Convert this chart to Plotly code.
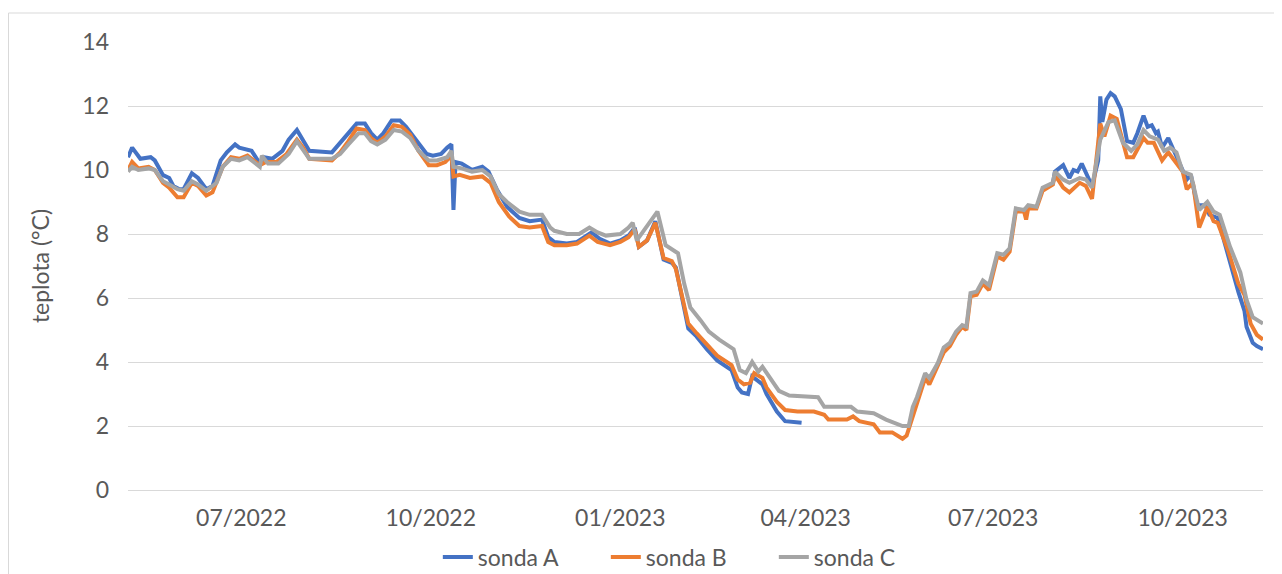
import pandas as pd
import plotly.graph_objects as go

# day offsets from 2022-07-01 and temperatures (°C)
start_date = "2022-07-01"

sondaA_days_1 = [-55, -53, -49, -44, -42, -38, -35, -33, -30, -28,
                 -24, -21, -17, -14, -10, -7, -3, -1, 5, 9,
                 11, 15, 20, 23, 27, 30, 33, 44, 48, 52,
                 56, 60, 63, 66, 69, 73, 77, 80, 85, 90,
                 93, 97, 100, 102, 103, 104, 107, 112, 117, 120,
                 124, 129, 135, 140, 146, 149, 152, 158, 163, 170,
                 174, 179, 184, 188, 191, 193, 197, 201, 205, 209,
                 211, 214, 217, 221, 226, 231, 238, 241, 243, 246,
                 248, 253, 255, 260, 264, 272]
sondaA_vals_1 = [10.4, 10.7, 10.35, 10.4, 10.3, 9.84, 9.75, 9.5, 9.4, 9.4,
                 9.9, 9.75, 9.4, 9.5, 10.3, 10.55, 10.8, 10.7, 10.6, 10.2,
                 10.4, 10.35, 10.6, 10.95, 11.25, 10.95, 10.6, 10.55, 10.85, 11.15,
                 11.45, 11.45, 11.15, 10.95, 11.15, 11.55, 11.55, 11.35, 10.95, 10.5,
                 10.45, 10.5, 10.7, 10.8, 8.75, 10.25, 10.2, 10.0, 10.1, 9.95,
                 9.4, 8.85, 8.5, 8.4, 8.45, 7.9, 7.75, 7.7, 7.75, 8.05,
                 7.85, 7.7, 7.8, 7.95, 8.2, 7.6, 7.8, 8.4, 7.2, 7.1,
                 6.95, 5.95, 5.05, 4.8, 4.4, 4.05, 3.75, 3.2, 3.05, 3.0,
                 3.55, 3.3, 3.0, 2.45, 2.15, 2.1]

sondaA_days_2 = [394, 395, 399, 401, 402, 404, 406, 408, 412, 413,
                 416, 417, 418, 420, 422, 424, 427, 430, 433, 435,
                 438, 440, 442, 444, 445, 447, 450, 453, 457, 459,
                 461, 464, 468, 470, 474, 479, 484, 487, 488, 491,
                 493, 496]
sondaA_vals_2 = [9.6, 9.95, 10.15, 9.9, 9.75, 10.0, 9.95, 10.2, 9.6, 9.5,
                 10.3, 12.3, 11.5, 12.2, 12.4, 12.3, 11.9, 10.9, 10.85, 11.15,
                 11.7, 11.35, 11.4, 11.15, 11.2, 10.7, 11.0, 10.55, 10.0, 9.7,
                 9.85, 8.9, 8.9, 8.6, 8.5, 7.3, 6.2, 5.6, 5.1, 4.6,
                 4.5, 4.4]

sondaB_days = [-55, -53, -50, -45, -42, -38, -35, -31, -28, -24,
               -21, -17, -14, -9, -5, -1, 3, 9, 12, 17,
               22, 27, 30, 33, 44, 48, 52, 56, 60, 63,
               66, 70, 74, 78, 82, 86, 91, 95, 99, 102,
               103, 106, 111, 117, 121, 125, 130, 135, 140, 146,
               149, 152, 158, 163, 169, 173, 179, 184, 188, 191,
               193, 197, 201, 205, 209, 211, 214, 217, 221, 226,
               231, 238, 241, 244, 247, 249, 253, 255, 260, 264,
               270, 278, 283, 285, 294, 297, 300, 307, 310, 316,
               321, 323, 328, 332, 334, 338, 341, 344, 347, 350,
               352, 354, 357, 360, 363, 367, 370, 373, 376, 380,
               381, 382, 386, 389, 394, 395, 399, 402, 407, 410,
               413, 417, 419, 422, 425, 430, 433, 438, 440, 443,
               447, 450, 453, 457, 459, 462, 465, 469, 472, 474,
               479, 484, 487, 490, 493, 496]
sondaB_vals = [10.0, 10.25, 10.05, 10.1, 10.0, 9.6, 9.45, 9.15, 9.15, 9.6,
               9.5, 9.2, 9.3, 10.1, 10.4, 10.35, 10.45, 10.15, 10.25, 10.25,
               10.5, 10.95, 10.7, 10.35, 10.3, 10.55, 10.9, 11.3, 11.25, 11.0,
               10.85, 11.05, 11.4, 11.35, 11.1, 10.6, 10.15, 10.15, 10.25, 10.45,
               9.8, 9.85, 9.75, 9.8, 9.6, 9.0, 8.55, 8.25, 8.2, 8.25,
               7.75, 7.65, 7.65, 7.7, 7.95, 7.75, 7.65, 7.75, 7.9, 8.15,
               7.6, 7.8, 8.35, 7.25, 7.15, 6.9, 6.05, 5.2, 4.9, 4.55,
               4.2, 3.9, 3.45, 3.3, 3.35, 3.65, 3.5, 3.2, 2.75, 2.5,
               2.45, 2.45, 2.35, 2.2, 2.2, 2.3, 2.15, 2.05, 1.8, 1.8,
               1.6, 1.7, 2.7, 3.5, 3.3, 3.85, 4.3, 4.5, 4.85, 5.1,
               5.0, 6.05, 6.1, 6.45, 6.25, 7.3, 7.2, 7.45, 8.7, 8.7,
               8.45, 8.8, 8.8, 9.35, 9.55, 9.85, 9.45, 9.3, 9.6, 9.5,
               9.1, 11.45, 11.05, 11.7, 11.6, 10.4, 10.4, 11.0, 10.85, 10.85,
               10.3, 10.55, 10.3, 9.95, 9.4, 9.6, 8.2, 8.85, 8.4, 8.35,
               7.5, 6.45, 6.1, 5.2, 4.85, 4.7]

sondaC_days = [-55, -53, -50, -45, -42, -38, -35, -31, -28, -24,
               -21, -17, -12, -9, -5, -1, 3, 9, 10, 13,
               18, 23, 27, 30, 33, 44, 48, 52, 57, 60,
               63, 66, 70, 74, 78, 82, 86, 91, 95, 100,
               102, 103, 107, 112, 117, 121, 125, 129, 135, 140,
               146, 150, 152, 158, 164, 169, 173, 177, 184, 188,
               190, 192, 196, 202, 206, 210, 212, 215, 218, 223,
               227, 232, 239, 242, 245, 248, 251, 253, 257, 261,
               266, 280, 283, 296, 299, 307, 313, 321, 324, 326,
               328, 332, 334, 338, 341, 344, 347, 350, 352, 354,
               357, 360, 363, 367, 370, 373, 376, 380, 382, 386,
               389, 394, 395, 399, 402, 407, 410, 413, 417, 421,
               424, 428, 432, 435, 438, 441, 445, 448, 451, 454,
               457, 461, 465, 469, 472, 475, 480, 485, 488, 491,
               496]
sondaC_vals = [9.95, 10.1, 10.0, 10.05, 10.0, 9.65, 9.55, 9.4, 9.35, 9.65,
               9.55, 9.35, 9.6, 10.1, 10.35, 10.3, 10.4, 10.1, 10.45, 10.2,
               10.2, 10.5, 10.9, 10.6, 10.35, 10.35, 10.5, 10.8, 11.15, 11.15,
               10.9, 10.8, 10.95, 11.25, 11.2, 11.0, 10.6, 10.3, 10.3, 10.4,
               10.6, 10.1, 10.05, 9.95, 10.0, 9.8, 9.25, 9.0, 8.7, 8.6,
               8.6, 8.2, 8.1, 8.0, 8.0, 8.2, 8.05, 7.95, 8.0, 8.2,
               8.35, 7.8, 8.15, 8.7, 7.65, 7.5, 7.4, 6.45, 5.7, 5.3,
               4.95, 4.7, 4.4, 3.75, 3.65, 4.0, 3.7, 3.85, 3.5, 3.1,
               2.95, 2.9, 2.6, 2.6, 2.45, 2.4, 2.2, 2.0, 2.0, 2.6,
               2.9, 3.65, 3.5, 3.95, 4.45, 4.6, 4.95, 5.15, 5.1, 6.15,
               6.2, 6.55, 6.4, 7.4, 7.35, 7.55, 8.8, 8.75, 8.9, 8.85,
               9.45, 9.6, 9.95, 9.7, 9.6, 9.75, 9.7, 9.45, 10.95, 11.5,
               11.55, 10.85, 10.6, 10.8, 11.25, 11.05, 10.95, 10.6, 10.7, 10.55,
               9.95, 9.85, 8.75, 9.0, 8.7, 8.6, 7.6, 6.8, 5.95, 5.4,
               5.2]

series_names = ["sonda A", "sonda B", "sonda C"]
tick_dates = ["2022-07-01", "2022-10-01", "2023-01-01", "2023-04-01", "2023-07-01", "2023-10-01"]
tick_labels = ["07/2022", "10/2022", "01/2023", "04/2023", "07/2023", "10/2023"]
y_ticks = [0, 2, 4, 6, 8, 10, 12, 14]

colors = ["#4472C4", "#ED7D31", "#A5A5A5"]
text_color = "#595959"
grid_color = "#D9D9D9"
FONT = "Lato, Carlito, Calibri, sans-serif"
FS = 23

base = pd.Timestamp(start_date)


def to_dates(days):
    return [base + pd.Timedelta(days=d) for d in days]


a_x = to_dates(sondaA_days_1) + [None] + to_dates(sondaA_days_2)
a_y = sondaA_vals_1 + [None] + sondaA_vals_2

fig = go.Figure()
fig.add_trace(go.Scatter(x=a_x, y=a_y, mode="lines", name=series_names[0],
                         line=dict(color=colors[0], width=4), connectgaps=False))
fig.add_trace(go.Scatter(x=to_dates(sondaB_days), y=sondaB_vals, mode="lines", name=series_names[1],
                         line=dict(color=colors[1], width=4)))
fig.add_trace(go.Scatter(x=to_dates(sondaC_days), y=sondaC_vals, mode="lines", name=series_names[2],
                         line=dict(color=colors[2], width=4)))

# page body has an 8px default margin, so the figure is sized/offset to compensate
fig.update_layout(
    width=1274, height=566,
    margin=dict(l=120, r=19, t=34, b=84, autoexpand=False),
    paper_bgcolor="white", plot_bgcolor="white",
    font=dict(family=FONT, size=FS, color=text_color),
    showlegend=True,
    legend=dict(orientation="h", x=0.495, xanchor="center", yref="container", y=0.03, yanchor="middle",
                font=dict(family=FONT, size=FS, color=text_color), bgcolor="rgba(0,0,0,0)",
                entrywidth=123, entrywidthmode="pixels", tracegroupgap=0),
    xaxis=dict(type="date", range=["2022-05-07", "2023-11-09"],
               tickvals=tick_dates, ticktext=tick_labels,
               showgrid=False, zeroline=False, showline=False, ticks="",
               ticklabelstandoff=12, automargin=False,
               tickfont=dict(family=FONT, size=FS, color=text_color)),
    yaxis=dict(range=[0, 14], tickvals=y_ticks, showgrid=True, gridcolor=grid_color, gridwidth=1,
               zeroline=True, zerolinecolor=grid_color, zerolinewidth=1,
               showline=False, ticks="", ticklabelstandoff=18, automargin=False,
               tickfont=dict(family=FONT, size=FS, color=text_color),
               title=dict(text="teplota (°C)", font=dict(family=FONT, size=FS, color=text_color), standoff=26)),
    shapes=[dict(type="rect", xref="paper", yref="paper",
                 x0=-0.1053, x1=1.2, y0=-0.4, y1=1.0647,
                 line=dict(color=grid_color, width=1), fillcolor="rgba(0,0,0,0)", layer="below")],
)

fig.write_html("out.html")
